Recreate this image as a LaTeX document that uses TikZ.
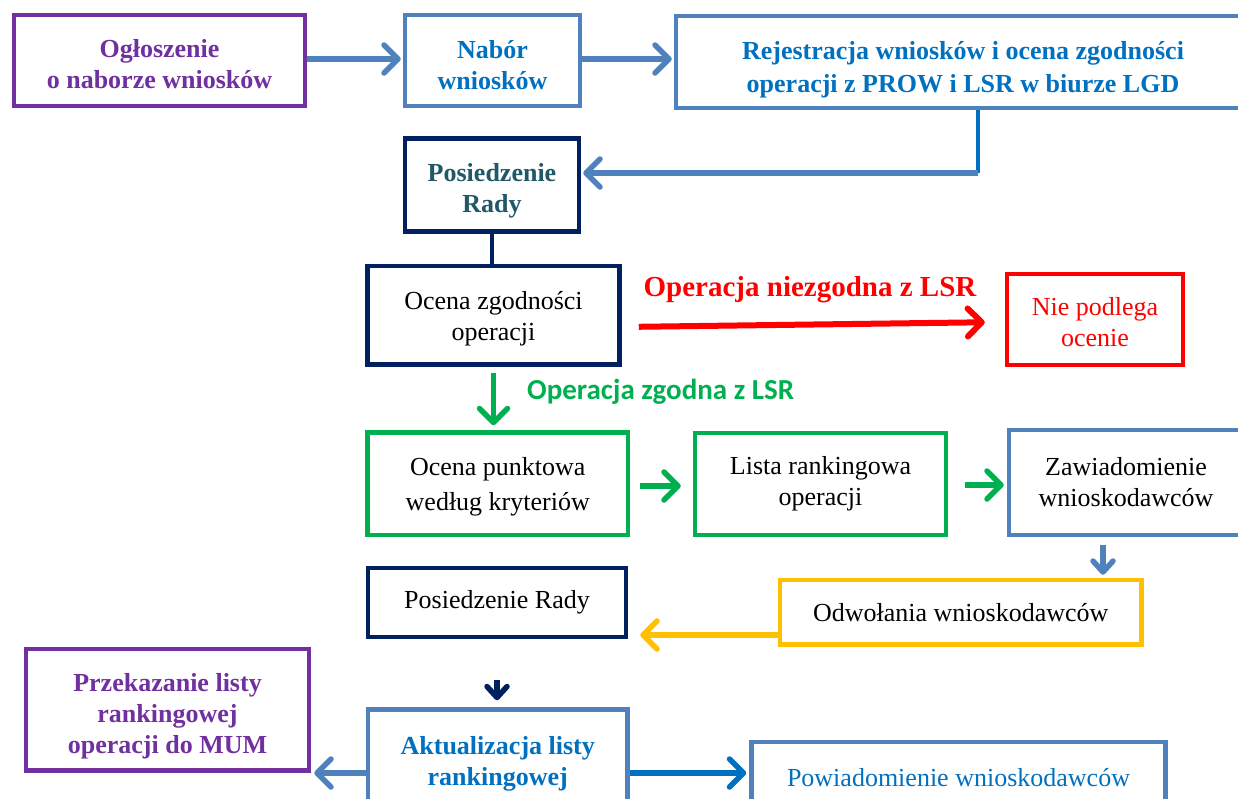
\documentclass[tikz,border=0pt]{standalone}
\usepackage{fontspec}
\setmainfont{Liberation Serif}
\newfontfamily\calibfont{Carlito}
\usetikzlibrary{arrows.meta}
\definecolor{cpurple}{HTML}{7030A0}
\definecolor{lblue}{HTML}{4F81BD}
\definecolor{tblue}{HTML}{0070C0}
\definecolor{navy}{HTML}{002060}
\definecolor{teal2}{HTML}{215868}
\definecolor{cred}{HTML}{FF0000}
\definecolor{cgreen}{HTML}{00B050}
\definecolor{cyellow}{HTML}{FFC000}
\tikzset{
  box/.style={draw, line width=4.5pt, align=center, inner sep=0pt, fill=white,
    font=\fontsize{26}{31}\selectfont},
  bbox/.style={box, font=\fontsize{26}{31}\selectfont\bfseries},
  arr/.style={line width=5.5pt, -{Straight Barb[length=14pt,width=28pt,round]}},
  smallarr/.style={line width=5.5pt, -{Straight Barb[length=11pt,width=20pt,round]}},
  plain/.style={line width=4.5pt}
}
\begin{document}
\begin{tikzpicture}[x=1pt,y=-1pt]
\useasboundingbox (0,0) rectangle (1238,798);
% boxes
\node[bbox, draw=cpurple, text=cpurple, minimum width=291pt, minimum height=91pt, text height=57pt] (ogl) at (159.5,60.5) {Ogłoszenie\\o naborze wniosków};
\node[bbox, draw=lblue, text=tblue, minimum width=175pt, minimum height=91pt, text height=58pt] (nab) at (492.5,60.5) {Nabór\\wniosków};
\node[bbox, draw=lblue, text=tblue, minimum width=574pt, minimum height=92pt, font=\fontsize{26}{33}\selectfont\bfseries, text height=67pt] (rej) at (963,62) {Rejestracja wniosków i ocena zgodności\\operacji z PROW i LSR w biurze LGD};
\node[bbox, draw=navy, text=teal2, minimum width=174pt, minimum height=93pt, text height=60pt] (pos1) at (492,185) {Posiedzenie\\Rady};
\node[box, draw=navy, minimum width=252pt, minimum height=98.5pt, text height=57pt] (oc) at (493.5,315) {Ocena zgodności\\operacji};
\node[box, draw=cred, text=cred, minimum width=176pt, minimum height=91pt, text height=55pt] (nie) at (1095,319.5) {Nie podlega\\ocenie};
\node[box, draw=cgreen, minimum width=260.5pt, minimum height=102.5pt, font=\fontsize{26}{35}\selectfont, text height=60pt] (pkt) at (497.75,483.75) {Ocena punktowa\\według kryteriów};
\node[box, draw=cgreen, minimum width=251pt, minimum height=102pt] (lst) at (820.5,484) {Lista rankingowa\\operacji};
\node[box, draw=lblue, minimum width=234pt, minimum height=105pt] (zaw) at (1126,482.5) {Zawiadomienie\\wnioskodawców};
\node[box, draw=cyellow, minimum width=361.5pt, minimum height=64.5pt] (odw) at (960.75,612.25) {Odwołania wnioskodawców};
\node[box, draw=navy, minimum width=258pt, minimum height=69pt] (pos2) at (497,602.5) {Posiedzenie Rady};
\node[bbox, draw=cpurple, text=cpurple, minimum width=283pt, minimum height=121.5pt, text height=93pt] (prz) at (167.5,709.75) {Przekazanie listy\\rankingowej\\operacji do MUM};
\node[bbox, draw=lblue, text=tblue, minimum width=259.5pt, minimum height=102.5pt, text height=55pt] (akt) at (497.75,760.75) {Aktualizacja listy\\rankingowej};
\node[box, draw=lblue, text=tblue, minimum width=414pt, minimum height=72pt] (pow) at (958.5,778) {Powiadomienie wnioskodawców};
% helper coordinates
\coordinate (c1) at (978,173);
\coordinate (ya) at (0,59);
\coordinate (yr1) at (0,327);
\coordinate (yr2) at (0,322);
\coordinate (yg1) at (0,486);
\coordinate (yg2) at (0,485);
\coordinate (zx) at (1103,0);
\coordinate (yy) at (0,635);
\coordinate (yb) at (0,773);
% connectors
\draw[arr, lblue, shorten >=2pt] (ogl.east |- ya) -- (nab.west |- ya);
\draw[arr, lblue, shorten >=2pt] (nab.east |- ya) -- (rej.west |- ya);
\draw[plain, tblue] (rej.south -| c1) -- (c1);
\draw[arr, lblue, shorten >=2pt] (c1) -- (c1 -| pos1.east);
\draw[plain, navy] (pos1.south) -- (pos1.south |- oc.north);
\draw[arr, cred, line width=6pt, shorten <=17pt, shorten >=20pt] (oc.east |- yr1) -- (nie.west |- yr2);
\node[font=\fontsize{29}{33}\selectfont\bfseries, text=cred] (lred) at (810,290) {Operacja niezgodna z LSR};
\draw[arr, cgreen, shorten <=6pt, shorten >=5pt] (oc.south) -- (oc.south |- pkt.north);
\node[anchor=west, font=\fontsize{29}{33}\calibfont\bfseries, text=cgreen, inner sep=0pt] (lgreen) at (527,392) {Operacja zgodna z LSR};
\draw[arr, cgreen, shorten <=10pt, shorten >=12pt] (pkt.east |- yg1) -- (lst.west |- yg1);
\draw[arr, cgreen, shorten <=17pt, shorten >=3pt] (lst.east |- yg2) -- (zaw.west |- yg2);
\draw[smallarr, lblue, shorten <=8pt, shorten >=3pt] (zaw.south -| zx) -- (odw.north -| zx);
\draw[arr, cyellow, shorten >=12pt] (odw.west |- yy) -- (pos2.east |- yy);
\draw[smallarr, navy, shorten <=41pt, shorten >=7pt] (pos2.south) -- (pos2.south |- akt.north);
\draw[arr, lblue, shorten >=3pt] (akt.west |- yb) -- (prz.east |- yb);
\draw[arr, tblue, shorten >=3pt] (akt.east |- yb) -- (pow.west |- yb);
\end{tikzpicture}
\end{document}
